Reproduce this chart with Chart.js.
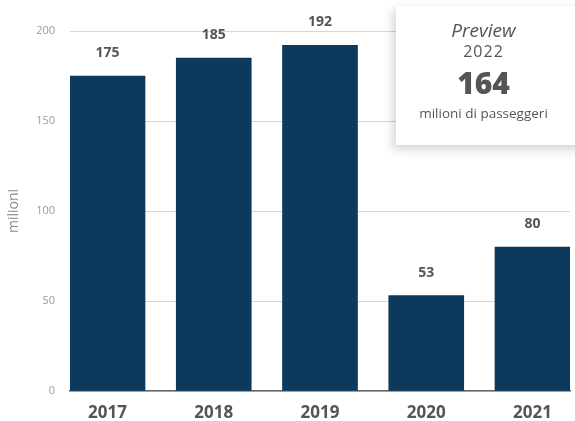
<!DOCTYPE html>
<html>
<head>
<meta charset="utf-8">
<script src="https://cdn.jsdelivr.net/npm/chart.js@4.4.1/dist/chart.umd.min.js"></script>
<style>
    html, body { margin: 0; padding: 0; background: #fff; overflow: hidden; }
    #wrap { position: relative; width: 575px; height: 421px; }
    #preview {
        position: absolute; left: 396px; top: 6px; width: 190px; height: 139px;
        background: #fff; box-shadow: -3px 4px 10px rgba(0,0,0,0.18);
        font-family: "Open Sans", sans-serif; color: #555; text-align: center;
        box-sizing: border-box; padding-right: 15px;
    }
    #preview .t1 { font-style: italic; font-size: 19px; line-height: 22px; margin-top: 13px; }
    #preview .t2 { font-size: 16px; line-height: 18px; letter-spacing: 1px; margin-top: 1px; }
    #preview .t3 { font-size: 30px; font-weight: 800; line-height: 34px; margin-top: 6px; }
    #preview .t4 { font-size: 13.5px; line-height: 18px; margin-top: 4px; }
</style>
</head>
<body>
<div id="wrap">
    <canvas id="barChartPasseggeri" width="575" height="421"></canvas>
    <div id="preview">
        <div class="t1">Preview</div>
        <div class="t2">2022</div>
        <div class="t3">164</div>
        <div class="t4">milioni di passeggeri</div>
    </div>
</div>
<script>
// passeggeri per anno, in milioni
const anni = ['2017', '2018', '2019', '2020', '2021'];
const passeggeri = [175, 185, 192, 53, 80];
const yTicks = [0, 50, 100, 150, 200];

// valori sopra le barre
const valueLabels = {
    id: 'valueLabels',
    afterDatasetsDraw(chart) {
        const ctx = chart.ctx;
        const meta = chart.getDatasetMeta(0);
        ctx.save();
        ctx.font = 'bold 14px "Open Sans"';
        ctx.fillStyle = '#555';
        ctx.textAlign = 'center';
        ctx.textBaseline = 'middle';
        meta.data.forEach((bar, i) => {
            ctx.fillText(String(passeggeri[i]), bar.x, bar.y - 23);
        });
        ctx.restore();
    }
};

const ctx = document.getElementById('barChartPasseggeri').getContext('2d');
new Chart(ctx, {
    type: 'bar',
    data: {
        datasets: [{
            label: 'Passeggeri',
            data: passeggeri.map((v, i) => ({ x: i, y: v })),
            backgroundColor: '#0d3a5c',
            barThickness: 75
        }]
    },
    options: {
        responsive: false,
        animation: false,
        layout: { padding: { top: 31, right: 5, left: 0, bottom: 0 } },
        plugins: {
            legend: { display: false },
            tooltip: { enabled: false }
        },
        scales: {
            x: {
                type: 'linear',
                offset: false,
                min: -0.353,
                max: 4.353,
                afterBuildTicks: (scale) => { scale.ticks = anni.map((_, i) => ({ value: i })); },
                afterFit: (scale) => { scale.height = 30; },
                grid: { display: false },
                border: { display: true, color: '#666', width: 1.5 },
                ticks: {
                    autoSkip: false,
                    maxRotation: 0,
                    padding: 4,
                    color: '#555',
                    font: { family: 'Open Sans', size: 17, weight: 'bold' },
                    callback: (value) => anni[value]
                }
            },
            y: {
                min: 0,
                max: 200,
                afterBuildTicks: (scale) => { scale.ticks = yTicks.map(v => ({ value: v })); },
                afterFit: (scale) => { scale.width = 70; },
                grid: { color: '#dcd7c3', lineWidth: 1, drawTicks: false },
                border: { display: false },
                title: {
                    display: true,
                    text: 'milioni',
                    color: '#888',
                    padding: 6,
                    font: { family: 'Open Sans', size: 14 }
                },
                ticks: {
                    padding: 15,
                    color: '#9a9a9a',
                    font: { family: 'Open Sans', size: 11 }
                }
            }
        }
    },
    plugins: [valueLabels]
});
</script>
</body>
</html>
